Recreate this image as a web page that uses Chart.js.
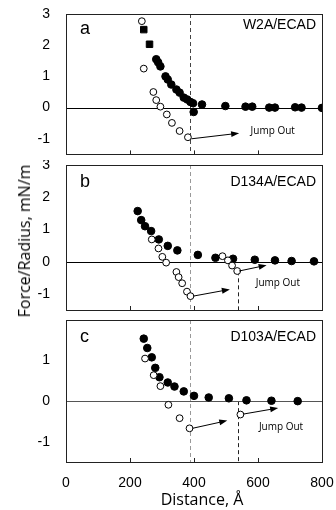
<!DOCTYPE html>
<html>
<head>
<meta charset="utf-8">
<script src="https://cdn.jsdelivr.net/npm/chart.js@4.4.0/dist/chart.umd.min.js"></script>
<style>
  body { margin: 0; background: #fff; }
  #wrap { position: relative; width: 336px; height: 510px; }
  canvas { position: absolute; left: 0; }
  .t { position: absolute; font-family: "Open Sans"; font-size: 16px; color: #000; white-space: nowrap; }
</style>
</head>
<body>
<div id="wrap">
  <canvas id="pa" style="top:0px" width="336" height="160"></canvas>
  <canvas id="pb" style="top:160px" width="336" height="155"></canvas>
  <canvas id="pc" style="top:315px" width="336" height="195"></canvas>
  <div class="t" style="left:24px;top:241px;transform:translate(-50%,-50%) rotate(-90deg);">Force/Radius, mN/m</div>
  <div class="t" style="left:202px;top:499px;transform:translate(-50%,-50%);">Distance, Å</div>
</div>
<script>
// shared x axis
const xTicks = [0, 200, 400, 600, 800];

// panel a: W2A/ECAD
const aFilledX = [243, 261, 282, 288, 295, 311, 318, 329, 345, 355, 368, 379, 389, 397, 399, 425, 498, 561, 582, 635, 653, 716, 736, 800];
const aFilledY = [2.5, 2.03, 1.55, 1.45, 1.32, 1.0, 0.9, 0.74, 0.58, 0.48, 0.32, 0.26, 0.18, 0.14, -0.14, 0.1, 0.05, 0.03, 0.03, 0.0, 0.0, 0.01, 0.0, -0.01];
const aOpenX = [237, 243, 273, 282, 295, 315, 331, 355, 381];
const aOpenY = [2.77, 1.25, 0.5, 0.24, 0.03, -0.22, -0.49, -0.75, -0.95];

// panel b: D134A/ECAD
const bFilledX = [224, 235, 247, 266, 290, 318, 348, 412, 467, 522, 590, 653, 705, 775];
const bFilledY = [1.57, 1.29, 1.1, 0.95, 0.69, 0.49, 0.35, 0.21, 0.12, 0.09, 0.06, 0.04, 0.02, 0.01];
const bOpenX = [268, 289, 301, 313, 345, 352, 363, 378, 389, 489, 506, 519, 535];
const bOpenY = [0.69, 0.41, 0.15, -0.03, -0.32, -0.48, -0.67, -0.93, -1.07, 0.17, 0.04, -0.12, -0.29];

// panel c: D103A/ECAD
const cFilledX = [243, 254, 268, 279, 292, 318, 339, 368, 400, 446, 509, 564, 642, 724];
const cFilledY = [1.54, 1.31, 1.08, 0.82, 0.59, 0.46, 0.36, 0.24, 0.13, 0.09, 0.07, 0.02, 0.01, 0.0];
const cOpenX = [247, 274, 295, 320, 355, 386, 545];
const cOpenY = [1.05, 0.64, 0.37, -0.09, -0.42, -0.67, -0.33];

const yTicksAB = [-1, 0, 1, 2, 3];
const yTicksC = [-1, 0, 1];

const pts = (xs, ys) => xs.map((x, i) => ({ x: x, y: ys[i] }));

const deco = {
  id: 'deco',
  beforeDatasetsDraw(chart, args, o) {
    const { ctx, chartArea: a, scales: { x, y } } = chart;
    ctx.save();
    ctx.lineWidth = 1;
    ctx.setLineDash([4, 3]);
    o.vlines.forEach(v => {
      const px = Math.round(x.getPixelForValue(v.x)) + 0.5;
      const top = v.top == null ? a.top : y.getPixelForValue(v.top);
      ctx.strokeStyle = v.color;
      ctx.beginPath(); ctx.moveTo(px, top); ctx.lineTo(px, a.bottom); ctx.stroke();
    });
    ctx.setLineDash([]);
    // zero line
    const zy = Math.round(y.getPixelForValue(0)) + 0.5;
    ctx.strokeStyle = o.zeroColor;
    ctx.beginPath(); ctx.moveTo(a.left, zy); ctx.lineTo(a.right, zy); ctx.stroke();
    // inner ticks on bottom
    ctx.strokeStyle = '#222';
    xTicks.slice(1, -1).forEach(t => {
      const px = Math.round(x.getPixelForValue(t)) + 0.5;
      ctx.beginPath(); ctx.moveTo(px, a.bottom); ctx.lineTo(px, a.bottom - 4); ctx.stroke();
    });
    // frame
    ctx.strokeStyle = '#222';
    ctx.strokeRect(Math.round(a.left) + 0.5, Math.round(a.top) + 0.5, Math.round(a.right - a.left), Math.round(a.bottom - a.top));
    ctx.restore();
  },
  afterDatasetsDraw(chart, args, o) {
    const { ctx, chartArea: a, scales: { x, y } } = chart;
    ctx.save();
    ctx.strokeStyle = '#000';
    ctx.fillStyle = '#000';
    ctx.lineWidth = 1;
    o.arrows.forEach(r => {
      const x1 = x.getPixelForValue(r[0]), y1 = y.getPixelForValue(r[1]);
      const x2 = x.getPixelForValue(r[2]), y2 = y.getPixelForValue(r[3]);
      const ang = Math.atan2(y2 - y1, x2 - x1);
      ctx.beginPath(); ctx.moveTo(x1, y1); ctx.lineTo(x2 - 5 * Math.cos(ang), y2 - 5 * Math.sin(ang)); ctx.stroke();
      ctx.beginPath();
      ctx.moveTo(x2, y2);
      ctx.lineTo(x2 - 8 * Math.cos(ang) + 3 * Math.sin(ang), y2 - 8 * Math.sin(ang) - 3 * Math.cos(ang));
      ctx.lineTo(x2 - 8 * Math.cos(ang) - 3 * Math.sin(ang), y2 - 8 * Math.sin(ang) + 3 * Math.cos(ang));
      ctx.closePath(); ctx.fill();
    });
    ctx.font = '10px "Open Sans"';
    ctx.textAlign = 'center';
    ctx.textBaseline = 'middle';
    ctx.fillText('Jump Out', x.getPixelForValue(o.jump[0]), y.getPixelForValue(o.jump[1]));
    ctx.font = '18px "Liberation Sans"';
    ctx.textAlign = 'left';
    ctx.textBaseline = 'alphabetic';
    ctx.fillText(o.letter, a.left + 14, a.top + o.letterDy);
    ctx.font = '14px "Liberation Sans"';
    ctx.textAlign = 'right';
    ctx.fillText(o.name, a.right - 6, a.top + o.nameDy);
    ctx.restore();
  }
};

// area = wanted plot box inside the canvas: [left, top, right, bottom]
function panel(id, open, filled, filledStyles, yMin, yMax, yTicks, showX, area, d) {
  const canvas = document.getElementById(id);
  const chart = new Chart(canvas.getContext('2d'), {
    type: 'scatter',
    data: {
      datasets: [
        { data: open, pointStyle: 'circle', pointRadius: 3.4, pointBackgroundColor: '#fff', pointBorderColor: '#000', pointBorderWidth: 1 },
        { data: filled, pointStyle: filledStyles,
          pointRadius: ctx => (Array.isArray(filledStyles) && filledStyles[ctx.dataIndex] === 'rect') ? 4.6 : 3.8,
          pointBackgroundColor: '#000', pointBorderColor: '#000', pointBorderWidth: 1 }
      ]
    },
    options: {
      responsive: false,
      animation: false,
      layout: { padding: { top: 0, right: 0, bottom: 0, left: 0 } },
      plugins: { legend: { display: false }, tooltip: { enabled: false }, deco: d },
      scales: {
        x: {
          type: 'linear', min: 0, max: 800,
          display: showX,
          afterBuildTicks: s => { s.ticks = xTicks.map(v => ({ value: v })); },
          afterFit: s => { s.paddingLeft = 0; s.paddingRight = 0; },
          grid: { display: false },
          border: { display: false },
          ticks: { color: '#000', padding: 5, font: { family: 'Liberation Sans', size: 14 } }
        },
        y: {
          min: yMin, max: yMax,
          afterBuildTicks: s => { s.ticks = yTicks.map(v => ({ value: v })); },
          afterFit: s => { s.paddingTop = 0; s.paddingBottom = 0; },
          grid: { display: false },
          border: { display: false },
          ticks: { color: '#000', padding: 8, font: { family: 'Liberation Sans', size: 14 } }
        }
      }
    },
    plugins: [deco]
  });
  // nudge the layout padding so the plot box lands where the figure has it
  for (let k = 0; k < 3; k++) {
    const ca = chart.chartArea, p = chart.options.layout.padding;
    p.left = Math.max(0, p.left + area[0] - ca.left);
    p.top = Math.max(0, p.top + area[1] - ca.top);
    p.right = Math.max(0, p.right + ca.right - area[2]);
    p.bottom = Math.max(0, p.bottom + ca.bottom - area[3]);
    chart.update();
  }
  return chart;
}

const aStyles = aFilledX.map((v, i) => i < 2 ? 'rect' : 'circle');

panel('pa', pts(aOpenX, aOpenY), pts(aFilledX, aFilledY), aStyles, -1.5, 3, yTicksAB, false,
  [66, 14, 322, 156],
  { letter: 'a', letterDy: 20, name: 'W2A/ECAD', nameDy: 15, zeroColor: '#000', jump: [646, -0.75],
    vlines: [{ x: 387, color: '#444' }],
    arrows: [[392, -1.0, 541, -0.82]] });

panel('pb', pts(bOpenX, bOpenY), pts(bFilledX, bFilledY), 'circle', -1.5, 3, yTicksAB, false,
  [66, 6, 322, 151],
  { letter: 'b', letterDy: 22, name: 'D134A/ECAD', nameDy: 21, zeroColor: '#000', jump: [662, -0.67],
    vlines: [{ x: 387, color: '#999' }, { x: 537, color: '#222', top: -0.3 }],
    arrows: [[397, -1.07, 512, -0.86], [541, -0.29, 627, -0.11]] });

panel('pc', pts(cOpenX, cOpenY), pts(cFilledX, cFilledY), 'circle', -1.5, 2, yTicksC, true,
  [66, 4, 322, 147],
  { letter: 'c', letterDy: 22, name: 'D103A/ECAD', nameDy: 21, zeroColor: '#555', jump: [672, -0.65],
    vlines: [{ x: 387, color: '#999' }, { x: 537, color: '#222', top: 0 }],
    arrows: [[395, -0.67, 504, -0.48], [553, -0.32, 663, -0.17]] });
</script>
</body>
</html>
